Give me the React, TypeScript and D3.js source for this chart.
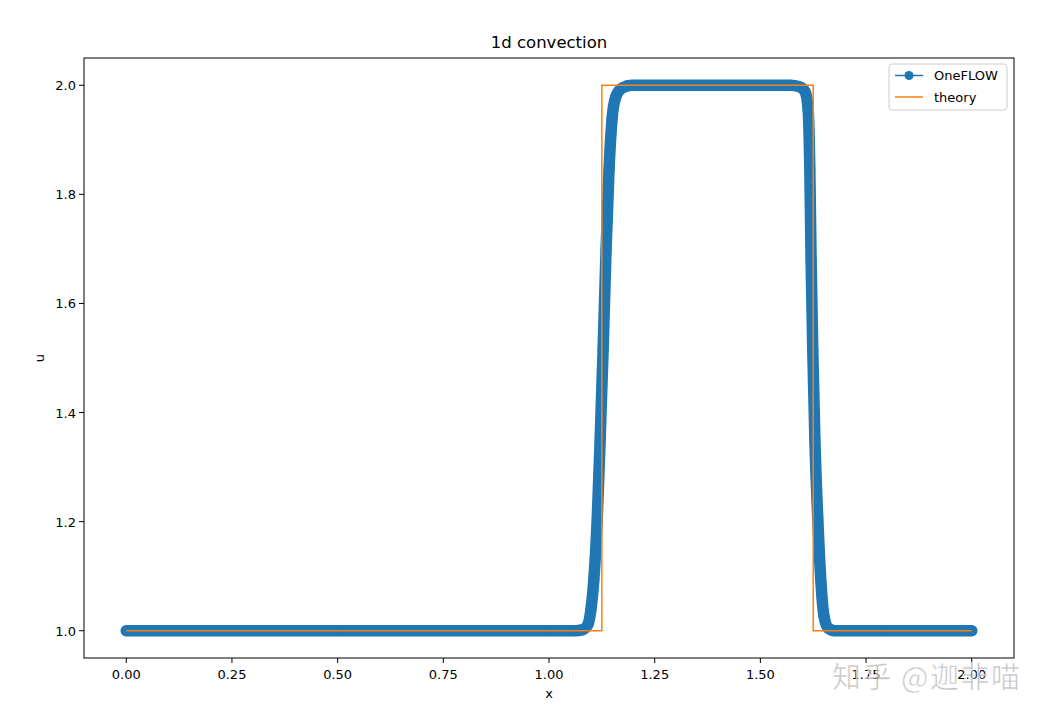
import React from "react";
import * as d3 from "d3";

// OneFLOW numerical solution (x, u)
const solX = [0.0, 0.5, 1.0, 1.061, 1.080, 1.092, 1.099, 1.106, 1.114, 1.121, 1.128, 1.135, 1.142, 1.149, 1.158, 1.173, 1.196, 1.3, 1.45, 1.570, 1.594, 1.606, 1.613, 1.617, 1.620, 1.624, 1.629, 1.636, 1.643, 1.650, 1.660, 1.676, 1.8, 2.0];
const solU = [1.0, 1.0, 1.0, 1.0, 1.002, 1.011, 1.038, 1.093, 1.203, 1.350, 1.515, 1.698, 1.845, 1.937, 1.979, 1.995, 2.0, 2.0, 2.0, 2.0, 1.997, 1.988, 1.955, 1.845, 1.680, 1.515, 1.350, 1.203, 1.093, 1.029, 1.005, 1.0, 1.0, 1.0];

// exact (theory) solution
const theoryX = [0.0, 1.125, 1.125, 1.625, 1.625, 2.0];
const theoryU = [1.0, 1.0, 2.0, 2.0, 1.0, 1.0];

const xTicks = [0, 0.25, 0.5, 0.75, 1.0, 1.25, 1.5, 1.75, 2.0];
const yTicks = [1.0, 1.2, 1.4, 1.6, 1.8, 2.0];

const BLUE = "#1f77b4";
const ORANGE = "#ff7f0e";
const FONT = "DejaVu Sans, sans-serif";

export default function App() {
  const W = 1057, H = 720;
  const L = 84, R = 1014, T = 58, B = 658;
  const x = d3.scaleLinear().domain([-0.1, 2.1]).range([L, R]);
  const y = d3.scaleLinear().domain([0.95, 2.05]).range([B, T]);

  const sol = solX.map((v, i) => [v, solU[i]] as [number, number]);
  const theory = theoryX.map((v, i) => [v, theoryU[i]] as [number, number]);
  const line = d3.line<[number, number]>().x(d => x(d[0])).y(d => y(d[1]));
  const smooth = d3.line<[number, number]>().x(d => x(d[0])).y(d => y(d[1])).curve(d3.curveMonotoneX);

  return (
    <svg width={W} height={H} style={{ position: "absolute", left: 0, top: 0, background: "#fff" }} fontFamily={FONT}>
      <rect x={0} y={0} width={W} height={H} fill="#fff" />
      <text x={(L + R) / 2} y={48} textAnchor="middle" fontSize={16.5} fill="#000">1d convection</text>

      {/* OneFLOW: dense markers band */}
      <path d={smooth(sol) || ""} fill="none" stroke={BLUE} strokeWidth={11.5} strokeLinejoin="round" strokeLinecap="round" />
      {sol.map((d, i) => (
        <circle key={i} cx={x(d[0])} cy={y(d[1])} r={5.5} fill={BLUE} />
      ))}
      <path d={smooth(sol) || ""} fill="none" stroke={BLUE} strokeWidth={1.5} />

      {/* theory */}
      <path d={line(theory) || ""} fill="none" stroke={ORANGE} strokeWidth={1.5} />

      {/* axes frame */}
      <rect x={L} y={T} width={R - L} height={B - T} fill="none" stroke="#000" strokeWidth={1} />

      {xTicks.map(t => (
        <g key={t}>
          <line x1={x(t)} x2={x(t)} y1={B} y2={B + 5} stroke="#000" />
          <text x={x(t)} y={679} textAnchor="middle" fontSize={13} fill="#000">{t.toFixed(2)}</text>
        </g>
      ))}
      {yTicks.map(t => (
        <g key={t}>
          <line x1={L - 5} x2={L} y1={y(t)} y2={y(t)} stroke="#000" />
          <text x={L - 8} y={y(t) + 5} textAnchor="end" fontSize={13} fill="#000">{t.toFixed(1)}</text>
        </g>
      ))}
      <text x={(L + R) / 2} y={698} textAnchor="middle" fontSize={13} fill="#000">x</text>
      <text transform={`translate(44,${(T + B) / 2}) rotate(-90)`} textAnchor="middle" fontSize={13} fill="#000">u</text>

      {/* legend */}
      <rect x={889} y={64} width={118} height={46} rx={3} fill="#fff" fillOpacity={0.8} stroke="#ccc" />
      <line x1={895} x2={923} y1={75.5} y2={75.5} stroke={BLUE} strokeWidth={1.5} />
      <circle cx={909} cy={75.5} r={4.5} fill={BLUE} />
      <text x={934} y={80} fontSize={13} fill="#000">OneFLOW</text>
      <line x1={895} x2={923} y1={97} y2={97} stroke={ORANGE} strokeWidth={1.5} />
      <text x={934} y={101.5} fontSize={13} fill="#000">theory</text>

      {/* watermark */}
      <text x={832} y={688} fontSize={29} letterSpacing={1.5} fontFamily="Noto Sans CJK SC, sans-serif" fill="#a8a8a8" fillOpacity={0.7} stroke="#fff" strokeWidth={0.6}>知乎 @迦非喵</text>
    </svg>
  );
}
